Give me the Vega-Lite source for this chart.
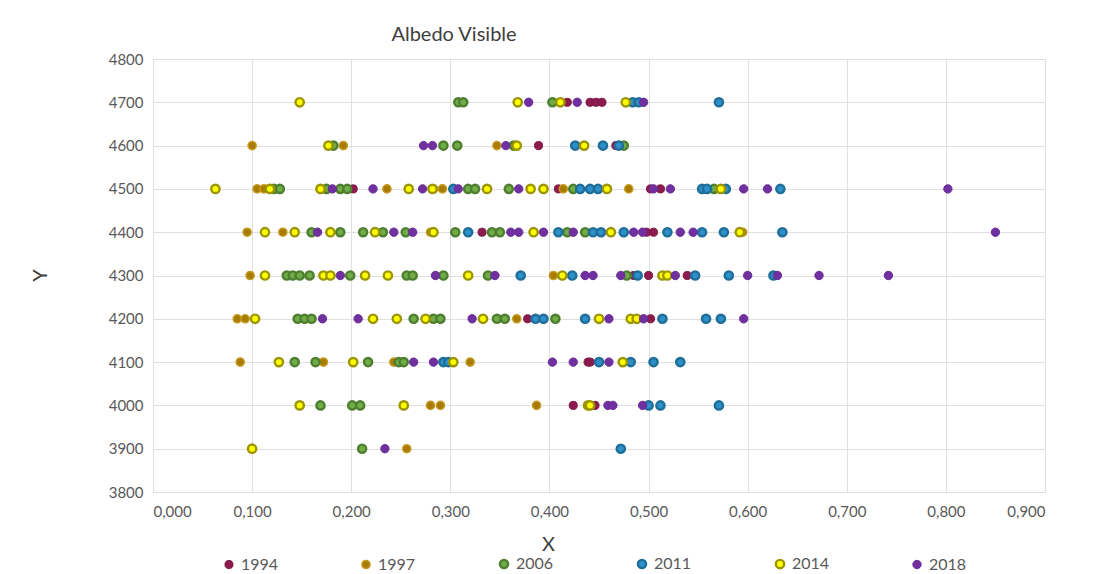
{
"$schema": "https://vega.github.io/schema/vega-lite/v6.json",
"autosize": "none",
"width": 892,
"height": 433,
"padding": {"left": 153, "top": 59, "right": 49, "bottom": 82},
"background": "white",
"config": {"font": "Lato", "view": {"stroke": "#D9D9D9"},
  "legend": {"title": null, "orient": "none", "direction": "horizontal", "legendX": 68, "legendY": 497,
             "labelFontSize": 16, "labelColor": "#595959", "symbolType": "circle",
             "columnPadding": 79, "labelOffset": 4}},
"title": {"text": "Albedo Visible", "fontSize": 20, "fontWeight": "normal", "color": "#404040", "anchor": "middle", "dx": -145, "offset": 7, "font": "Lato"},
"data": {"values": [
{"year":"1994","x":0.418,"y":4700},{"year":"1994","x":0.441,"y":4700},{"year":"1994","x":0.447,"y":4700},{"year":"1994","x":0.453,"y":4700},
{"year":"1994","x":0.389,"y":4600},{"year":"1994","x":0.467,"y":4600},
{"year":"1994","x":0.202,"y":4500},{"year":"1994","x":0.409,"y":4500},{"year":"1994","x":0.502,"y":4500},{"year":"1994","x":0.512,"y":4500},
{"year":"1994","x":0.332,"y":4400},{"year":"1994","x":0.505,"y":4400},{"year":"1994","x":0.498,"y":4400},
{"year":"1994","x":0.485,"y":4300},{"year":"1994","x":0.500,"y":4300},{"year":"1994","x":0.539,"y":4300},
{"year":"1994","x":0.378,"y":4200},{"year":"1994","x":0.502,"y":4200},
{"year":"1994","x":0.439,"y":4100},{"year":"1994","x":0.441,"y":4100},
{"year":"1994","x":0.424,"y":4000},{"year":"1994","x":0.446,"y":4000},
{"year":"1997","x":0.100,"y":4600},{"year":"1997","x":0.192,"y":4600},{"year":"1997","x":0.347,"y":4600},
{"year":"1997","x":0.105,"y":4500},{"year":"1997","x":0.112,"y":4500},{"year":"1997","x":0.236,"y":4500},{"year":"1997","x":0.283,"y":4500},{"year":"1997","x":0.292,"y":4500},{"year":"1997","x":0.414,"y":4500},{"year":"1997","x":0.480,"y":4500},
{"year":"1997","x":0.095,"y":4400},{"year":"1997","x":0.131,"y":4400},{"year":"1997","x":0.280,"y":4400},{"year":"1997","x":0.595,"y":4400},
{"year":"1997","x":0.098,"y":4300},{"year":"1997","x":0.404,"y":4300},
{"year":"1997","x":0.085,"y":4200},{"year":"1997","x":0.093,"y":4200},{"year":"1997","x":0.367,"y":4200},
{"year":"1997","x":0.088,"y":4100},{"year":"1997","x":0.172,"y":4100},{"year":"1997","x":0.243,"y":4100},{"year":"1997","x":0.320,"y":4100},
{"year":"1997","x":0.280,"y":4000},{"year":"1997","x":0.290,"y":4000},{"year":"1997","x":0.387,"y":4000},
{"year":"1997","x":0.256,"y":3900},
{"year":"2006","x":0.308,"y":4700},{"year":"2006","x":0.313,"y":4700},{"year":"2006","x":0.403,"y":4700},
{"year":"2006","x":0.182,"y":4600},{"year":"2006","x":0.293,"y":4600},{"year":"2006","x":0.307,"y":4600},{"year":"2006","x":0.364,"y":4600},{"year":"2006","x":0.475,"y":4600},
{"year":"2006","x":0.122,"y":4500},{"year":"2006","x":0.128,"y":4500},{"year":"2006","x":0.175,"y":4500},{"year":"2006","x":0.189,"y":4500},{"year":"2006","x":0.196,"y":4500},{"year":"2006","x":0.318,"y":4500},{"year":"2006","x":0.325,"y":4500},{"year":"2006","x":0.359,"y":4500},{"year":"2006","x":0.424,"y":4500},{"year":"2006","x":0.566,"y":4500},
{"year":"2006","x":0.160,"y":4400},{"year":"2006","x":0.189,"y":4400},{"year":"2006","x":0.212,"y":4400},{"year":"2006","x":0.232,"y":4400},{"year":"2006","x":0.255,"y":4400},{"year":"2006","x":0.305,"y":4400},{"year":"2006","x":0.342,"y":4400},{"year":"2006","x":0.350,"y":4400},{"year":"2006","x":0.418,"y":4400},{"year":"2006","x":0.436,"y":4400},
{"year":"2006","x":0.135,"y":4300},{"year":"2006","x":0.141,"y":4300},{"year":"2006","x":0.148,"y":4300},{"year":"2006","x":0.158,"y":4300},{"year":"2006","x":0.199,"y":4300},{"year":"2006","x":0.256,"y":4300},{"year":"2006","x":0.262,"y":4300},{"year":"2006","x":0.293,"y":4300},{"year":"2006","x":0.338,"y":4300},{"year":"2006","x":0.478,"y":4300},
{"year":"2006","x":0.146,"y":4200},{"year":"2006","x":0.153,"y":4200},{"year":"2006","x":0.160,"y":4200},{"year":"2006","x":0.263,"y":4200},{"year":"2006","x":0.283,"y":4200},{"year":"2006","x":0.290,"y":4200},{"year":"2006","x":0.347,"y":4200},{"year":"2006","x":0.355,"y":4200},{"year":"2006","x":0.406,"y":4200},
{"year":"2006","x":0.143,"y":4100},{"year":"2006","x":0.164,"y":4100},{"year":"2006","x":0.217,"y":4100},{"year":"2006","x":0.248,"y":4100},{"year":"2006","x":0.253,"y":4100},
{"year":"2006","x":0.169,"y":4000},{"year":"2006","x":0.201,"y":4000},{"year":"2006","x":0.209,"y":4000},
{"year":"2006","x":0.211,"y":3900},
{"year":"2011","x":0.484,"y":4700},{"year":"2011","x":0.490,"y":4700},{"year":"2011","x":0.571,"y":4700},
{"year":"2011","x":0.426,"y":4600},{"year":"2011","x":0.454,"y":4600},{"year":"2011","x":0.470,"y":4600},
{"year":"2011","x":0.303,"y":4500},{"year":"2011","x":0.431,"y":4500},{"year":"2011","x":0.441,"y":4500},{"year":"2011","x":0.449,"y":4500},{"year":"2011","x":0.554,"y":4500},{"year":"2011","x":0.559,"y":4500},{"year":"2011","x":0.578,"y":4500},{"year":"2011","x":0.633,"y":4500},
{"year":"2011","x":0.318,"y":4400},{"year":"2011","x":0.409,"y":4400},{"year":"2011","x":0.444,"y":4400},{"year":"2011","x":0.452,"y":4400},{"year":"2011","x":0.475,"y":4400},{"year":"2011","x":0.519,"y":4400},{"year":"2011","x":0.554,"y":4400},{"year":"2011","x":0.576,"y":4400},{"year":"2011","x":0.635,"y":4400},
{"year":"2011","x":0.371,"y":4300},{"year":"2011","x":0.423,"y":4300},{"year":"2011","x":0.489,"y":4300},{"year":"2011","x":0.547,"y":4300},{"year":"2011","x":0.581,"y":4300},{"year":"2011","x":0.626,"y":4300},
{"year":"2011","x":0.386,"y":4200},{"year":"2011","x":0.394,"y":4200},{"year":"2011","x":0.436,"y":4200},{"year":"2011","x":0.514,"y":4200},{"year":"2011","x":0.558,"y":4200},{"year":"2011","x":0.573,"y":4200},
{"year":"2011","x":0.293,"y":4100},{"year":"2011","x":0.298,"y":4100},{"year":"2011","x":0.450,"y":4100},{"year":"2011","x":0.482,"y":4100},{"year":"2011","x":0.505,"y":4100},{"year":"2011","x":0.532,"y":4100},
{"year":"2011","x":0.500,"y":4000},{"year":"2011","x":0.512,"y":4000},{"year":"2011","x":0.571,"y":4000},
{"year":"2011","x":0.472,"y":3900},
{"year":"2014","x":0.148,"y":4700},{"year":"2014","x":0.368,"y":4700},{"year":"2014","x":0.411,"y":4700},{"year":"2014","x":0.477,"y":4700},
{"year":"2014","x":0.177,"y":4600},{"year":"2014","x":0.367,"y":4600},{"year":"2014","x":0.435,"y":4600},
{"year":"2014","x":0.063,"y":4500},{"year":"2014","x":0.118,"y":4500},{"year":"2014","x":0.169,"y":4500},{"year":"2014","x":0.258,"y":4500},{"year":"2014","x":0.282,"y":4500},{"year":"2014","x":0.337,"y":4500},{"year":"2014","x":0.381,"y":4500},{"year":"2014","x":0.394,"y":4500},{"year":"2014","x":0.458,"y":4500},{"year":"2014","x":0.573,"y":4500},
{"year":"2014","x":0.113,"y":4400},{"year":"2014","x":0.143,"y":4400},{"year":"2014","x":0.179,"y":4400},{"year":"2014","x":0.224,"y":4400},{"year":"2014","x":0.283,"y":4400},{"year":"2014","x":0.384,"y":4400},{"year":"2014","x":0.462,"y":4400},{"year":"2014","x":0.592,"y":4400},
{"year":"2014","x":0.113,"y":4300},{"year":"2014","x":0.172,"y":4300},{"year":"2014","x":0.179,"y":4300},{"year":"2014","x":0.214,"y":4300},{"year":"2014","x":0.237,"y":4300},{"year":"2014","x":0.318,"y":4300},{"year":"2014","x":0.413,"y":4300},{"year":"2014","x":0.514,"y":4300},{"year":"2014","x":0.519,"y":4300},
{"year":"2014","x":0.103,"y":4200},{"year":"2014","x":0.222,"y":4200},{"year":"2014","x":0.246,"y":4200},{"year":"2014","x":0.275,"y":4200},{"year":"2014","x":0.333,"y":4200},{"year":"2014","x":0.450,"y":4200},{"year":"2014","x":0.482,"y":4200},{"year":"2014","x":0.488,"y":4200},
{"year":"2014","x":0.127,"y":4100},{"year":"2014","x":0.202,"y":4100},{"year":"2014","x":0.303,"y":4100},{"year":"2014","x":0.474,"y":4100},
{"year":"2014","x":0.148,"y":4000},{"year":"2014","x":0.253,"y":4000},{"year":"2014","x":0.439,"y":4000},{"year":"2014","x":0.441,"y":4000},
{"year":"2014","x":0.100,"y":3900},
{"year":"2018","x":0.379,"y":4700},{"year":"2018","x":0.428,"y":4700},{"year":"2018","x":0.495,"y":4700},
{"year":"2018","x":0.273,"y":4600},{"year":"2018","x":0.282,"y":4600},{"year":"2018","x":0.356,"y":4600},
{"year":"2018","x":0.181,"y":4500},{"year":"2018","x":0.222,"y":4500},{"year":"2018","x":0.272,"y":4500},{"year":"2018","x":0.308,"y":4500},{"year":"2018","x":0.369,"y":4500},{"year":"2018","x":0.505,"y":4500},{"year":"2018","x":0.522,"y":4500},{"year":"2018","x":0.596,"y":4500},{"year":"2018","x":0.620,"y":4500},{"year":"2018","x":0.802,"y":4500},
{"year":"2018","x":0.166,"y":4400},{"year":"2018","x":0.243,"y":4400},{"year":"2018","x":0.262,"y":4400},{"year":"2018","x":0.361,"y":4400},{"year":"2018","x":0.369,"y":4400},{"year":"2018","x":0.394,"y":4400},{"year":"2018","x":0.424,"y":4400},{"year":"2018","x":0.485,"y":4400},{"year":"2018","x":0.494,"y":4400},{"year":"2018","x":0.532,"y":4400},{"year":"2018","x":0.545,"y":4400},{"year":"2018","x":0.850,"y":4400},
{"year":"2018","x":0.189,"y":4300},{"year":"2018","x":0.285,"y":4300},{"year":"2018","x":0.345,"y":4300},{"year":"2018","x":0.436,"y":4300},{"year":"2018","x":0.444,"y":4300},{"year":"2018","x":0.472,"y":4300},{"year":"2018","x":0.527,"y":4300},{"year":"2018","x":0.600,"y":4300},{"year":"2018","x":0.630,"y":4300},{"year":"2018","x":0.672,"y":4300},{"year":"2018","x":0.742,"y":4300},
{"year":"2018","x":0.171,"y":4200},{"year":"2018","x":0.207,"y":4200},{"year":"2018","x":0.322,"y":4200},{"year":"2018","x":0.460,"y":4200},{"year":"2018","x":0.495,"y":4200},{"year":"2018","x":0.596,"y":4200},
{"year":"2018","x":0.263,"y":4100},{"year":"2018","x":0.283,"y":4100},{"year":"2018","x":0.403,"y":4100},{"year":"2018","x":0.424,"y":4100},{"year":"2018","x":0.460,"y":4100},
{"year":"2018","x":0.459,"y":4000},{"year":"2018","x":0.464,"y":4000},{"year":"2018","x":0.494,"y":4000},
{"year":"2018","x":0.234,"y":3900}
]},
"mark": {"type": "circle", "opacity": 1},
"encoding": {
  "x": {"field": "x", "type": "quantitative",
        "scale": {"domain": [0, 0.9], "nice": false, "zero": false},
        "axis": {"values": [0,0.1,0.2,0.3,0.4,0.5,0.6,0.7,0.8,0.9],
                 "labelExpr": "replace(format(datum.value, '.3f'), '.', ',')",
                 "title": "X", "titleFontSize": 20, "titleFontWeight": "normal", "titleColor": "#404040",
                 "titleX": 395, "titleY": 52, "titleAlign": "center", "titleBaseline": "middle",
                 "labelFontSize": 15, "labelColor": "#595959", "labelPadding": 12,
                 "grid": true, "gridColor": "#E0E0E0", "domain": false, "ticks": false}},
  "y": {"field": "y", "type": "quantitative",
        "scale": {"domain": [3800, 4800], "nice": false, "zero": false},
        "axis": {"values": [3800,3900,4000,4100,4200,4300,4400,4500,4600,4700,4800],
                 "format": "d",
                 "title": "Y", "titleFontSize": 20, "titleFontWeight": "normal", "titleColor": "#404040",
                 "titleX": -113, "titleY": 216, "titleAlign": "center", "titleBaseline": "middle", "titleAngle": 270,
                 "labelFontSize": 15, "labelColor": "#595959", "labelPadding": 10,
                 "grid": true, "gridColor": "#E0E0E0", "domain": false, "ticks": false}},
  "fill": {"field": "year", "type": "nominal",
           "scale": {"domain": ["1994","1997","2006","2011","2014","2018"],
                     "range": ["#8E1B4F","#A87C00","#70AD47","#2E90C8","#FFFF00","#7030A0"]}},
  "stroke": {"field": "year", "type": "nominal",
             "scale": {"domain": ["1994","1997","2006","2011","2014","2018"],
                       "range": ["#7A1842","#C79A20","#4E7F30","#1F6E9A","#9C9400","#6A2C98"]}},
  "strokeWidth": {"field": "year", "type": "nominal",
             "scale": {"type": "ordinal", "domain": ["1994","1997","2006","2011","2014","2018"],
                       "range": [1, 1.5, 2.4, 2.4, 2.4, 1]}},
  "size": {"field": "year", "type": "ordinal",
           "scale": {"domain": ["1994","1997","2006","2011","2014","2018"],
                     "range": [65, 70, 145, 145, 145, 65]}}
}
}
